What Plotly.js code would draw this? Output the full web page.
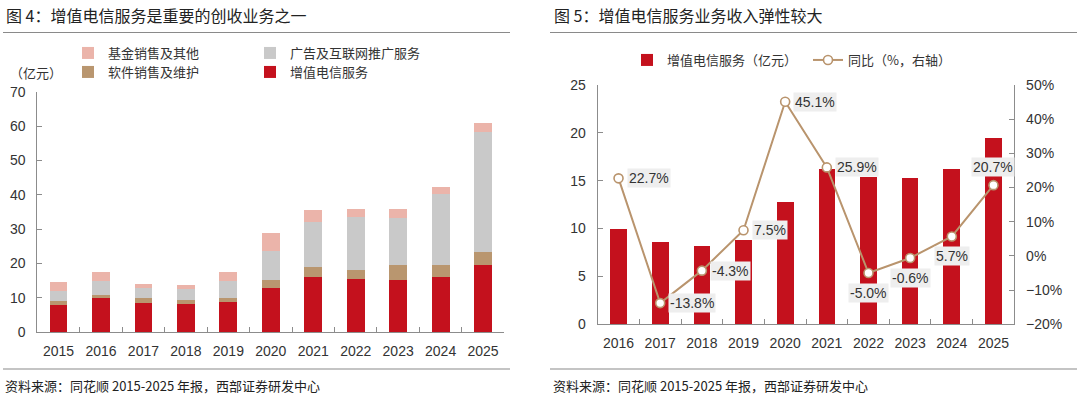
<!DOCTYPE html>
<html><head><meta charset="utf-8">
<script src="https://cdn.plot.ly/plotly-3.0.1.min.js"></script>
<style>html,body{margin:0;padding:0;background:#fff;} #chart{width:1080px;height:399px;}</style>
</head><body><div id="chart"></div>
<script>
// ---- data (left chart: revenue breakdown, 亿元) ----
const yearsLeft = ['2015','2016','2017','2018','2019','2020','2021','2022','2023','2024','2025'];
const telecomVAS = [8.0, 9.9, 8.5, 8.1, 8.8, 12.9, 16.2, 15.4, 15.3, 16.2, 19.5];
const softwareSales = [1.0, 0.9, 1.4, 1.3, 1.3, 2.4, 2.9, 2.8, 4.3, 3.5, 4.0];
const adInternet = [2.9, 4.0, 3.1, 3.2, 4.7, 8.4, 13.1, 15.4, 13.7, 20.4, 34.9];
const fundOther = [2.6, 2.7, 1.1, 1.3, 2.7, 5.1, 3.3, 2.4, 2.7, 2.2, 2.5];
const leftNames = ['增值电信服务', '软件销售及维护', '广告及互联网推广服务', '基金销售及其他'];
const leftTicks = [0, 10, 20, 30, 40, 50, 60, 70];

// ---- data (right chart: value-added telecom services) ----
const yearsRight = ['2016','2017','2018','2019','2020','2021','2022','2023','2024','2025'];
const vasRevenue = [10.0, 8.6, 8.2, 8.8, 12.8, 16.2, 15.4, 15.3, 16.2, 19.5];
const vasYoY = [22.7, -13.8, -4.3, 7.5, 45.1, 25.9, -5.0, -0.6, 5.7, 20.7];
const rightNames = ['增值电信服务（亿元）', '同比（%，右轴）'];

// ---- style ----
const labelPlacement = ['r','r','r','r','r','r','b','b','b','a'];
const RED = '#c4111d', TAN = '#b9966f', GREY = '#c9c9c9', PINK = '#ebb4aa', LINE = '#b9946d';
const AX = '#8c8c8c', TXT = '#333333';
const NUM = 'Liberation Sans, Arial, Noto Sans CJK SC, sans-serif';
const CJK = 'Noto Sans CJK SC, Liberation Sans, sans-serif';
const px = x => x / 1080, py = y => 1 - y / 399;

const traces = [
  {type:'bar', x:yearsLeft, y:telecomVAS, name:leftNames[0], marker:{color:RED}, width:0.42, xaxis:'x', yaxis:'y', legend:'legend4', hoverinfo:'skip'},
  {type:'bar', x:yearsLeft, y:softwareSales, name:leftNames[1], marker:{color:TAN}, width:0.42, xaxis:'x', yaxis:'y', legend:'legend3', hoverinfo:'skip'},
  {type:'bar', x:yearsLeft, y:adInternet, name:leftNames[2], marker:{color:GREY}, width:0.42, xaxis:'x', yaxis:'y', legend:'legend2', hoverinfo:'skip'},
  {type:'bar', x:yearsLeft, y:fundOther, name:leftNames[3], marker:{color:PINK}, width:0.42, xaxis:'x', yaxis:'y', legend:'legend', hoverinfo:'skip'},
  {type:'bar', x:yearsRight, y:vasRevenue, name:rightNames[0], marker:{color:RED}, width:0.4, xaxis:'x2', yaxis:'y2', legend:'legend5', hoverinfo:'skip'},
  {type:'scatter', mode:'lines+markers', x:yearsRight, y:vasYoY, name:rightNames[1], xaxis:'x2', yaxis:'y3', legend:'legend6',
   line:{color:LINE, width:2}, marker:{size:9, color:'#ffffff', line:{color:LINE, width:1.6}}, cliponaxis:false, hoverinfo:'skip'}
];

const xCommon = {type:'category', showline:true, linecolor:AX, linewidth:1, ticks:'inside', tickson:'boundaries',
  ticklen:5, tickcolor:AX, showgrid:false, zeroline:false, tickangle:0, tickfont:{family:NUM, size:14, color:TXT}, ticklabelstandoff:6, fixedrange:true};
const yCommon = {showline:true, linecolor:AX, linewidth:1, ticks:'inside', ticklen:5, tickcolor:AX, showgrid:false,
  zeroline:false, tickfont:{family:NUM, size:14, color:TXT}, ticklabelstandoff:8, fixedrange:true};

const legendBase = {orientation:'h', xanchor:'left', yanchor:'middle', bgcolor:'rgba(0,0,0,0)', borderwidth:0,
  font:{family:CJK, size:13, color:TXT}, itemclick:false, itemdoubleclick:false};

const annotations = [
  {text:'图 4：增值电信服务是重要的创收业务之一', x:px(4), y:py(15)},
  {text:'图 5：增值电信服务业务收入弹性较大', x:px(552), y:py(15)}
].map(a => Object.assign({xref:'paper', yref:'paper', xanchor:'left', yanchor:'middle', showarrow:false,
  font:{family:CJK, size:16, color:'#222'}}, a));

annotations.push({text:'（亿元）', xref:'paper', yref:'paper', x:px(8), y:py(72), xanchor:'left', yanchor:'middle',
  showarrow:false, font:{family:CJK, size:13, color:TXT}});
['资料来源：同花顺 2015-2025 年报，西部证券研发中心'].forEach(t => {
  [3, 551].forEach(x0 => annotations.push({text:t, xref:'paper', yref:'paper', x:px(x0), y:py(385), xanchor:'left',
    yanchor:'middle', showarrow:false, font:{family:CJK, size:13, color:'#222'}}));
});

// YoY labels: x given as category index on the x2 category axis
vasYoY.forEach((v, i) => {
  const p = labelPlacement[i];
  const a = {xref:'x2', yref:'y3', x:i, y:v, text:v.toFixed(1) + '%', showarrow:false,
    bgcolor:'#eeeeee', borderpad:1, font:{family:NUM, size:14, color:TXT}};
  if (p === 'r') Object.assign(a, {xanchor:'left', yanchor:'middle', xshift:8});
  else if (p === 'b') Object.assign(a, {xanchor:'center', yanchor:'top', yshift:-10});
  else Object.assign(a, {xanchor:'center', yanchor:'bottom', yshift:8});
  annotations.push(a);
});

const shapes = [[3,510,32.5],[550,1077,32.5],[3,510,369],[550,1077,369]].map(s => ({
  type:'line', xref:'paper', yref:'paper', x0:px(s[0]), x1:px(s[1]), y0:py(s[2]), y1:py(s[2]),
  line:{color:'#8a8a8a', width:1.2}}));

const layout = {
  width:1080, height:399, margin:{l:0, r:0, t:0, b:0}, paper_bgcolor:'#fff', plot_bgcolor:'rgba(0,0,0,0)',
  barmode:'stack', showlegend:true,
  font:{family:NUM, color:TXT},
  xaxis:Object.assign({}, xCommon, {domain:[px(37.3), px(504.3)], anchor:'y', range:[-0.5, yearsLeft.length - 0.5]}),
  yaxis:Object.assign({}, yCommon, {domain:[py(332.3), py(91.7)], range:[0,70], tickvals:leftTicks, anchor:'x'}),
  xaxis2:Object.assign({}, xCommon, {domain:[px(597.7), px(1014.3)], anchor:'y2', range:[-0.5, yearsRight.length - 0.5]}),
  yaxis2:Object.assign({}, yCommon, {domain:[py(324.3), py(85)], range:[0,25], dtick:5, anchor:'x2'}),
  yaxis3:Object.assign({}, yCommon, {overlaying:'y2', side:'right', anchor:'x2', range:[-20,50], dtick:10, ticksuffix:'%'}),
  legend:Object.assign({}, legendBase, {x:px(68), y:py(53)}),
  legend2:Object.assign({}, legendBase, {x:px(250), y:py(53)}),
  legend3:Object.assign({}, legendBase, {x:px(68), y:py(72)}),
  legend4:Object.assign({}, legendBase, {x:px(250), y:py(72)}),
  legend5:Object.assign({}, legendBase, {x:px(627), y:py(60)}),
  legend6:Object.assign({}, legendBase, {x:px(808), y:py(60)}),
  annotations:annotations, shapes:shapes
};

Plotly.newPlot('chart', traces, layout, {displayModeBar:false, staticPlot:true});
</script>
</body></html>
